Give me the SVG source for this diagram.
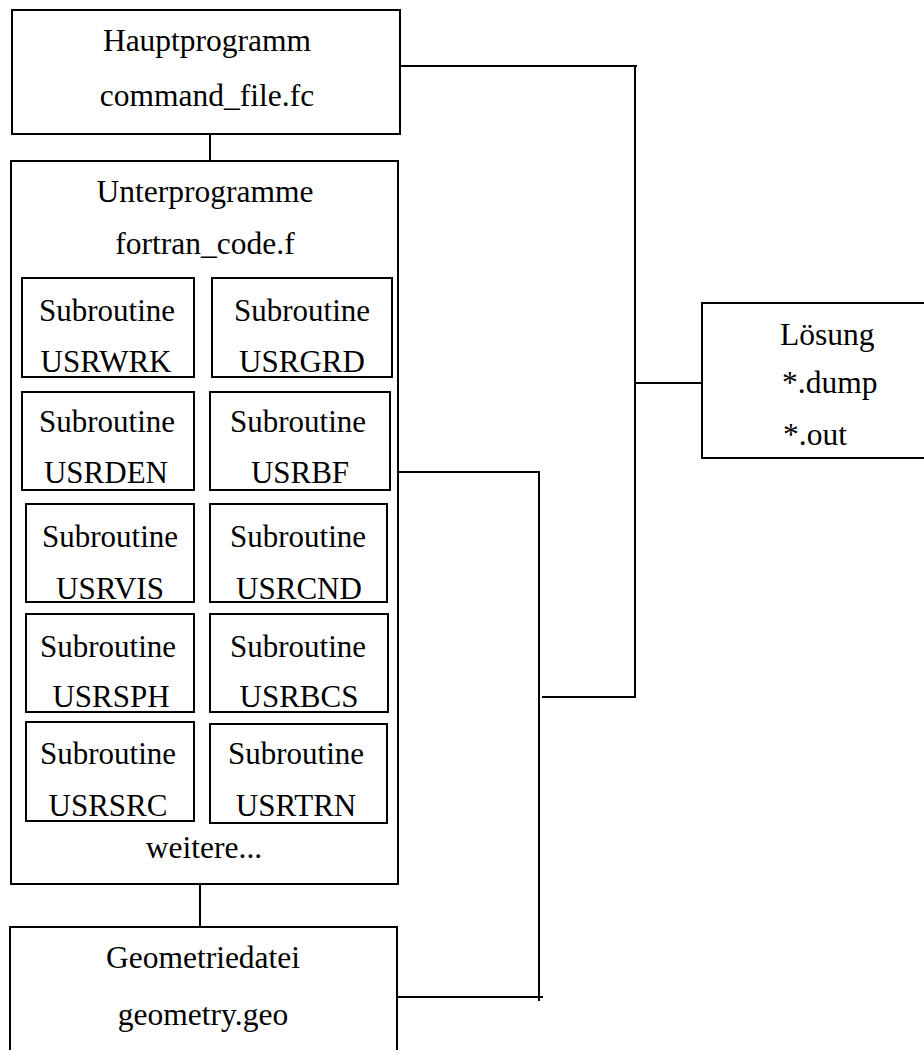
<svg xmlns="http://www.w3.org/2000/svg" width="924" height="1050" viewBox="0 0 924 1050">
<style>
rect{fill:none;stroke:#000;stroke-width:2}
line,polyline{fill:none;stroke:#000;stroke-width:2}
text{font-family:"Liberation Serif","Times New Roman",serif;font-size:31.5px;fill:#000}
.c{text-anchor:middle}
.s{font-size:31px}
</style>
<rect x="0" y="0" width="924" height="1050" style="fill:#fff;stroke:none"/>
<g id="connectors">
<line x1="210" y1="134" x2="210" y2="161"/>
<line x1="200" y1="884" x2="200" y2="927"/>
<polyline points="400,66 637,66"/>
<polyline points="635,66 635,697 542,697"/>
<line x1="635" y1="383" x2="702" y2="383"/>
<polyline points="398,472 539,472 539,1001"/>
<line x1="397" y1="997" x2="543" y2="997"/>
</g>
<g id="hauptprogramm">
<rect x="12" y="10" width="388" height="124"/>
<text class="c" x="207" y="51">Hauptprogramm</text>
<text class="c" x="207" y="106">command_file.fc</text>
</g>
<g id="unterprogramme">
<rect x="11" y="161" width="387" height="723"/>
<text class="c" x="205" y="202">Unterprogramme</text>
<text class="c" x="205" y="254">fortran_code.f</text>
<text class="c" x="204" y="858">weitere...</text>
</g>
<g id="usrwrk"><rect x="22" y="278" width="172" height="99"/><text class="c s" x="107" y="321">Subroutine</text><text class="c s" x="106" y="372">USRWRK</text></g>
<g id="usrgrd"><rect x="212" y="278" width="180" height="99"/><text class="c s" x="302" y="321">Subroutine</text><text class="c s" x="302" y="372">USRGRD</text></g>
<g id="usrden"><rect x="22" y="392" width="172" height="98"/><text class="c s" x="107" y="432">Subroutine</text><text class="c s" x="106" y="483">USRDEN</text></g>
<g id="usrbf"><rect x="210" y="392" width="180" height="98"/><text class="c s" x="298" y="432">Subroutine</text><text class="c s" x="300" y="483">USRBF</text></g>
<g id="usrvis"><rect x="26" y="504" width="168" height="98"/><text class="c s" x="110" y="547">Subroutine</text><text class="c s" x="110" y="599">USRVIS</text></g>
<g id="usrcnd"><rect x="210" y="504" width="177" height="98"/><text class="c s" x="298" y="547">Subroutine</text><text class="c s" x="299" y="599">USRCND</text></g>
<g id="usrsph"><rect x="26" y="614" width="168" height="98"/><text class="c s" x="108" y="657">Subroutine</text><text class="c s" x="111" y="707">USRSPH</text></g>
<g id="usrbcs"><rect x="210" y="614" width="178" height="98"/><text class="c s" x="298" y="657">Subroutine</text><text class="c s" x="299" y="707">USRBCS</text></g>
<g id="usrsrc"><rect x="26" y="722" width="168" height="99"/><text class="c s" x="108" y="764">Subroutine</text><text class="c s" x="108" y="816">USRSRC</text></g>
<g id="usrtrn"><rect x="210" y="724" width="177" height="99"/><text class="c s" x="296" y="764">Subroutine</text><text class="c s" x="296" y="816">USRTRN</text></g>
<g id="geometriedatei">
<rect x="10" y="927" width="387" height="140"/>
<text class="c" x="203" y="968">Geometriedatei</text>
<text class="c" x="203" y="1025">geometry.geo</text>
</g>
<g id="loesung">
<rect x="702" y="303" width="240" height="155"/>
<text x="780" y="345">Lösung</text>
<text x="782" y="393">*.dump</text>
<text x="783" y="445">*.out</text>
</g>
</svg>
